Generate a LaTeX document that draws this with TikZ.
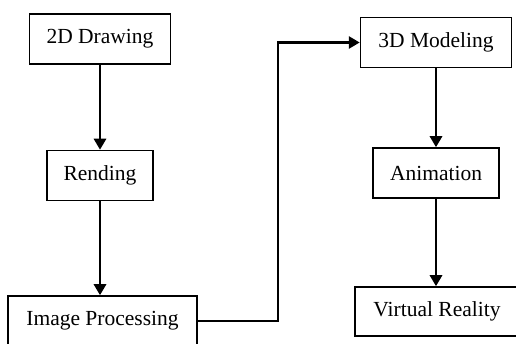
\documentclass[tikz,border=0pt]{standalone}
\usepackage{fontspec}
\setmainfont{Liberation Serif}
\usetikzlibrary{arrows.meta, positioning}
\tikzset{
  >={Triangle[length=11pt, width=12pt]},
  every picture/.style={line cap=butt, line join=miter},
  stage/.style={draw, line width=1.5pt, fill=white, inner sep=0pt,
    minimum height=50pt, font=\fontsize{21.5}{25}\selectfont},
  flow/.style={->, line width=2.8pt},
}
\begin{document}
\begin{tikzpicture}[x=1pt, y=-1pt]
  \useasboundingbox (0,0) rectangle (516,344);
  % left column
  \node[stage, minimum width=141pt] (draw2d) at (100,39) {2D Drawing};
  \node[stage, minimum width=106pt] (rend) at (100,175.5) {Rending};
  \node[stage, minimum width=189pt] (imgproc) at (102.5,321) {Image Processing};
  % right column
  \node[stage, minimum width=151pt] (model3d) at (436,42.5) {3D Modeling};
  \node[stage, minimum width=126pt] (anim) at (436,173) {Animation};
  \node[stage, minimum width=164pt, minimum height=49pt] (vr) at (437,311.5) {Virtual Reality};
  % connectors
  \coordinate (turn) at (278,0);
  \draw[flow] (draw2d) -- (draw2d |- rend.north);
  \draw[flow] (rend) -- (rend |- imgproc.north);
  \draw[flow] (imgproc.east) -| (turn |- model3d.west) -- (model3d.west);
  \draw[flow] (model3d) -- (model3d |- anim.north);
  \draw[flow] (anim) -- (anim |- vr.north);
\end{tikzpicture}
\end{document}
